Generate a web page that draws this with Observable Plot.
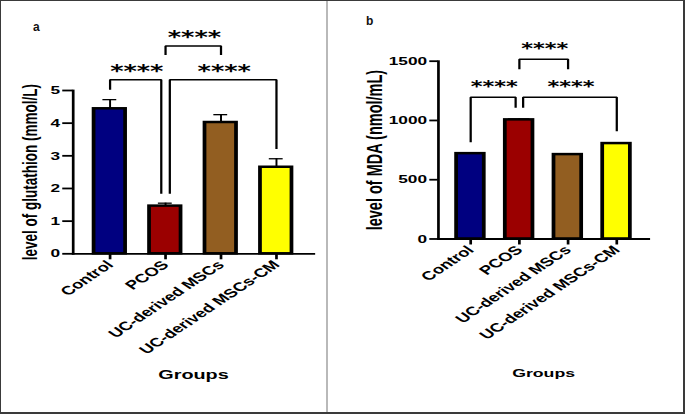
<!DOCTYPE html>
<html>
<head>
<meta charset="utf-8">
<script src="https://cdn.jsdelivr.net/npm/d3@7"></script>
<script src="https://cdn.jsdelivr.net/npm/@observablehq/plot@0.6"></script>
<style>
  html, body { margin: 0; padding: 0; background: #fff; }
  #figure { position: relative; width: 685px; height: 414px; overflow: hidden; background: #fff;
            font-family: "Liberation Sans", Arial, sans-serif; }
  /* both panels are laid out narrow and widened 1.5x as one piece */
  #stretch { position: absolute; left: 0; top: 0; width: 456.667px; height: 414px;
             transform: scaleX(1.5); transform-origin: 0 0; }
  #stretch svg { position: absolute; top: 0; overflow: visible; }
  #border { position: absolute; inset: 0; box-sizing: border-box; border-style: solid;
            border-color: #3a3a3a; border-width: 1px 2px 2px 1px; pointer-events: none; }
  #divider { position: absolute; left: 326px; top: 0; width: 2px; height: 414px; background: #b9b9b9; }
  .tag { position: absolute; font-weight: bold; font-size: 12px; line-height: 12px; color: #111; }
  g[aria-label="significance"] text { letter-spacing: 1.5px; }
</style>
</head>
<body>
<div id="figure">
  <div id="stretch"></div>
  <div id="divider"></div>
  <div class="tag" style="left:33px; top:20.5px;">a</div>
  <div class="tag" style="left:366px; top:14.5px;">b</div>
  <div id="border"></div>
</div>
<script>
const groups = ["Control", "PCOS", "UC-derived MSCs", "UC-derived MSCs-CM"];
const barColors = ["#000080", "#9b0000", "#925e21", "#ffff00"];

// Glutathione (mmol/L): mean and SEM per group
const glutathioneMean = [4.44, 1.46, 4.02, 2.65];
const glutathioneSem = [0.28, 0.09, 0.24, 0.26];
const glutathioneTicks = [0, 1, 2, 3, 4, 5];
const glutathioneTests = [
  {from: "Control", to: "PCOS", top: 5.33, fromEnd: 5.02, toEnd: 1.84, label: "****"},
  {from: "PCOS", to: "UC-derived MSCs-CM", top: 5.33, fromEnd: 1.84, toEnd: 3.21, label: "****"},
  {from: "PCOS", to: "UC-derived MSCs", top: 6.36, fromEnd: 6.09, toEnd: 6.09, label: "****"}
];

// MDA (nmol/mL): mean and SEM per group
const mdaMean = [720, 1005, 712, 805];
const mdaSem = [8, 8, 6, 8];
const mdaTicks = [0, 500, 1000, 1500];
const mdaTests = [
  {from: "Control", to: "PCOS", top: 1196, fromEnd: 817, toEnd: 1107, label: "****"},
  {from: "PCOS", to: "UC-derived MSCs-CM", top: 1196, fromEnd: 1107, toEnd: 910, label: "****"},
  {from: "PCOS", to: "UC-derived MSCs", top: 1516, fromEnd: 1432, toEnd: 1432, label: "****"}
];

const BAR_HALF = 0.284;   // half bar width, in group units
const LEG_GAP = 0.077;    // legs sharing a group at one level are pulled apart

function drawPanel(o) {
  const rows = groups.map((g, i) => ({group: g, i, mean: o.mean[i], sem: o.sem[i], color: barColors[i]}));
  const index = new Map(groups.map((g, i) => [g, i]));
  const legX = (t, g, side) => {
    const shared = o.tests.some(u => u !== t && u.top === t.top && (u.from === g || u.to === g));
    return index.get(g) + (shared ? side * LEG_GAP : 0);
  };
  const brackets = o.tests.map((t, k) => ({...t, k, x1: legX(t, t.from, 1), x2: legX(t, t.to, -1)}));
  const path = brackets.flatMap(b => [
    {k: b.k, x: b.x1, y: b.fromEnd},
    {k: b.k, x: b.x1, y: b.top},
    {k: b.k, x: b.x2, y: b.top},
    {k: b.k, x: b.x2, y: b.toEnd}
  ]);
  return Plot.plot({
    width: o.width,
    height: 414,
    marginTop: o.marginTop,
    marginBottom: o.marginBottom,
    marginLeft: o.marginLeft,
    marginRight: o.marginRight,
    style: {fontFamily: "'Liberation Sans', Arial, sans-serif", fontWeight: "bold", fontSize: "11px",
            color: "black", background: "transparent", overflow: "visible"},
    x: {type: "linear", domain: o.xDomain},
    y: {domain: o.yDomain},
    marks: [
      Plot.rect(rows, {x1: d => d.i - BAR_HALF, x2: d => d.i + BAR_HALF, y1: 0, y2: "mean",
                       fill: "color", stroke: "black", strokeWidth: 2.5}),
      Plot.ruleX(rows, {x: "i", y1: "mean", y2: d => d.mean + d.sem, strokeWidth: 1.3}),
      Plot.ruleY(rows, {y: d => d.mean + d.sem, x1: d => d.i - o.cap, x2: d => d.i + o.cap, strokeWidth: 1.3}),
      Plot.frame({anchor: "left", strokeWidth: 1.8}),
      Plot.frame({anchor: "bottom", strokeWidth: 1.8}),
      Plot.axisY({ticks: o.ticks, tickFormat: d => String(d), tickSize: o.yTickSize, tickPadding: 2,
                  label: null, strokeWidth: 1.8, fontSize: 11.5}),
      Plot.axisX({ticks: [0, 1, 2, 3], tickFormat: i => groups[i], tickRotate: -45,
                  tickSize: 6, tickPadding: 3, label: null, strokeWidth: 1.8, fontSize: 12.3}),
      Plot.line(path, {x: "x", y: "y", z: "k", strokeWidth: 1.5, strokeLinejoin: "miter", strokeLinecap: "butt"}),
      Plot.text(brackets, {x: d => (d.x1 + d.x2) / 2, y: "top", text: "label", dx: 0.75, dy: o.starDy,
                           fontSize: o.starSize, fontFamily: "DejaVu Sans", ariaLabel: "significance"}),
      Plot.text([o.yLabel], {frameAnchor: "left", textAnchor: "middle", lineAnchor: "middle", rotate: -90,
                             dx: o.yLabelDx, fontSize: o.yLabelSize}),
      Plot.text(["Groups"], {frameAnchor: "bottom", textAnchor: "middle", lineAnchor: "middle",
                             dy: o.groupsDy, fontSize: o.groupsSize})
    ]
  });
}

const panelA = drawPanel({
  mean: glutathioneMean, sem: glutathioneSem, tests: glutathioneTests, ticks: glutathioneTicks,
  yDomain: [0, 5], xDomain: [-0.665, 3.673],
  width: 218, marginTop: 90, marginBottom: 160.7, marginLeft: 48.3, marginRight: 9.3,
  cap: 0.125, yTickSize: 6.8, starSize: 17, starDy: -8.5,
  yLabel: "level of glutathion (mmol/L)", yLabelDx: -28.5, yLabelSize: 13.5,
  groupsDy: 121, groupsSize: 13.2
});
const panelB = drawPanel({
  mean: mdaMean, sem: mdaSem, tests: mdaTests, ticks: mdaTicks,
  yDomain: [0, 1500], xDomain: [-0.662, 3.656],
  width: 238.667, marginTop: 60.7, marginBottom: 175.5, marginLeft: 73.8, marginRight: 24.667,
  cap: 0.22, yTickSize: 5.6, starSize: 15, starDy: -10,
  yLabel: "level of MDA (nmol/mL)", yLabelDx: -42.4, yLabelSize: 14.5,
  groupsDy: 133.8, groupsSize: 11.8
});
panelA.style.left = "0px";
panelB.style.left = "218px";
const stretch = document.getElementById("stretch");
stretch.append(panelA, panelB);
</script>
</body>
</html>
